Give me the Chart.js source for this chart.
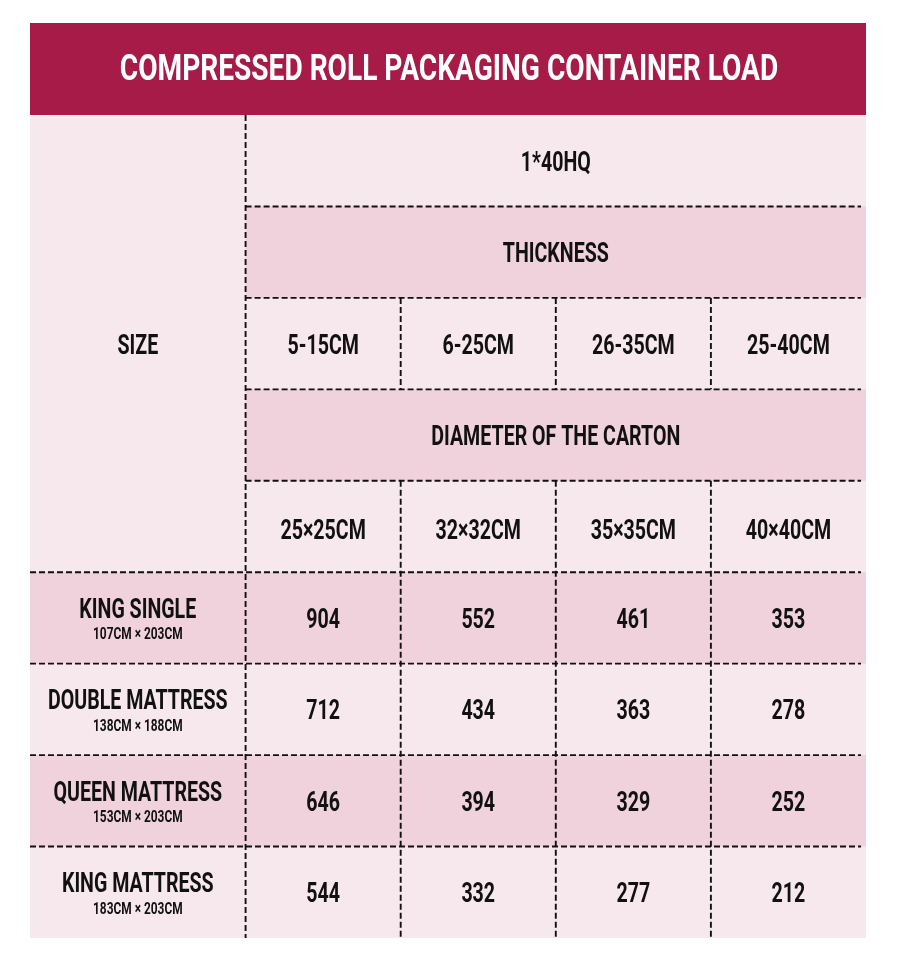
<!DOCTYPE html>
<html>
<head>
<meta charset="utf-8">
<title>Compressed Roll Packaging Container Load</title>
<script src="https://cdn.jsdelivr.net/npm/chart.js@4.4.1/dist/chart.umd.min.js"></script>
<style>
  html, body { margin: 0; padding: 0; background: #ffffff; }
  canvas { display: block; }
</style>
</head>
<body>
<canvas id="loadTable" width="897" height="960"></canvas>
<script>
// Table content
const titleText = 'COMPRESSED ROLL PACKAGING CONTAINER LOAD';
const containerLabel = '1*40HQ';
const sizeHeader = 'SIZE';
const thicknessHeader = 'THICKNESS';
const diameterHeader = 'DIAMETER OF THE CARTON';
const thicknesses = ['5-15CM', '6-25CM', '26-35CM', '25-40CM'];
const diameters = ['25×25CM', '32×32CM', '35×35CM', '40×40CM'];
const sizes = ['KING SINGLE', 'DOUBLE MATTRESS', 'QUEEN MATTRESS', 'KING MATTRESS'];
const dimensions = ['107CM × 203CM', '138CM × 188CM', '153CM × 203CM', '183CM × 203CM'];

// Pieces per container, one array per carton diameter (rows follow `sizes`)
const load25 = [904, 712, 646, 544];
const load32 = [552, 434, 394, 332];
const load35 = [461, 363, 329, 277];
const load40 = [353, 278, 252, 212];
const loads = [load25, load32, load35, load40];

// Grid layout: first column is wider than the four value columns
const sizeColWidth = 1.39;
const totalCols = sizeColWidth + 4;
const headerRows = 5;
const totalRows = headerRows + sizes.length;
const colLeft = i => (i === 0 ? 0 : sizeColWidth + (i - 1));
const colMid = i => (i === 0 ? sizeColWidth / 2 : sizeColWidth + (i - 1) + 0.5);

// no condensed font installed, so Roboto bold gets squeezed sideways
const FONT = "Roboto, 'Liberation Sans', sans-serif";
const SQUEEZE = 0.7;
const lightPink = '#f7e8ed';
const darkPink = '#efd2db';
const ink = '#111111';

// One scatter dataset per diameter column, points sit in the middle of each cell
const datasets = loads.map((values, c) => ({
    label: diameters[c],
    data: values.map((v, r) => ({ x: colMid(c + 1), y: headerRows + r + 0.5, v: v })),
    pointRadius: 0,
    pointHoverRadius: 0,
    showLine: false
}));

function squeezedText(ctx, str, px, py, size, color, squeeze) {
    ctx.save();
    ctx.font = 'bold ' + size + 'px ' + FONT;
    ctx.fillStyle = color;
    ctx.textAlign = 'center';
    ctx.textBaseline = 'middle';
    ctx.translate(px, py);
    ctx.scale(squeeze || SQUEEZE, 1);
    ctx.fillText(str, 0, 0);
    ctx.restore();
}

const tablePlugin = {
    id: 'tablePlugin',
    beforeDraw(chart) {
        const { ctx, chartArea, scales: { x, y } } = chart;
        ctx.save();
        ctx.fillStyle = '#ffffff';
        ctx.fillRect(0, 0, chart.width, chart.height);
        // title band above the table body
        const bandTop = 23;
        ctx.fillStyle = '#a61b47';
        ctx.fillRect(chartArea.left, bandTop, chartArea.right - chartArea.left, chartArea.top - bandTop);
        squeezedText(ctx, titleText, (chartArea.left + chartArea.right) / 2 + 1,
            (bandTop + chartArea.top) / 2 + 2, 36, '#ffffff', 0.78);
        // body
        ctx.fillStyle = lightPink;
        ctx.fillRect(chartArea.left, chartArea.top, chartArea.right - chartArea.left, chartArea.bottom - chartArea.top);
        // darker bands
        ctx.fillStyle = darkPink;
        const band = (x0, r) => {
            const px = x.getPixelForValue(x0);
            ctx.fillRect(px, y.getPixelForValue(r), x.getPixelForValue(totalCols) - px,
                y.getPixelForValue(r + 1) - y.getPixelForValue(r));
        };
        band(sizeColWidth, 1);
        band(sizeColWidth, 3);
        band(0, 5);
        band(0, 7);
        ctx.restore();
    },
    beforeDatasetsDraw(chart) {
        const { ctx, scales: { x, y } } = chart;
        ctx.save();
        ctx.strokeStyle = '#111111';
        ctx.lineWidth = 1.9;
        ctx.setLineDash([6, 3]);
        const hLine = (x0, x1, r) => {
            ctx.beginPath();
            ctx.moveTo(x.getPixelForValue(x0), y.getPixelForValue(r));
            ctx.lineTo(x.getPixelForValue(x1) - 5, y.getPixelForValue(r));
            ctx.stroke();
        };
        const vLine = (c, r0, r1) => {
            ctx.beginPath();
            ctx.moveTo(x.getPixelForValue(c), y.getPixelForValue(r0));
            ctx.lineTo(x.getPixelForValue(c), y.getPixelForValue(r1));
            ctx.stroke();
        };
        for (let r = 1; r < headerRows; r++) hLine(sizeColWidth, totalCols, r);
        for (let r = headerRows; r < totalRows; r++) hLine(0, totalCols, r);
        vLine(sizeColWidth, 0, totalRows);
        for (let c = 2; c <= 4; c++) {
            vLine(colLeft(c), 2, 3);
            vLine(colLeft(c), 4, totalRows);
        }
        ctx.restore();
    },
    afterDatasetsDraw(chart) {
        const { ctx, scales: { x, y } } = chart;
        const text = (str, xv, yv, size, dy) =>
            squeezedText(ctx, str, x.getPixelForValue(xv), y.getPixelForValue(yv) + (dy || 0), size, ink);
        const spanMid = sizeColWidth + 2;
        text(containerLabel, spanMid, 0.5, 28, 3);
        text(thicknessHeader, spanMid, 1.5, 28, 3);
        text(diameterHeader, spanMid, 3.5, 28, 3);
        text(sizeHeader, colMid(0), headerRows / 2, 28, 3);
        thicknesses.forEach((t, i) => text(t, colMid(i + 1), 2.5, 28, 3));
        diameters.forEach((d, i) => text(d, colMid(i + 1), 4.5, 28, 5));
        sizes.forEach((s, i) => {
            text(s, colMid(0), headerRows + i + 0.5, 28, -7);
            text(dimensions[i], colMid(0), headerRows + i + 0.5, 17, 17);
        });
        // values taken from the dataset points
        chart.data.datasets.forEach((ds, di) => {
            chart.getDatasetMeta(di).data.forEach((pt, i) => {
                squeezedText(ctx, String(ds.data[i].v), pt.x, pt.y + 3, 28, ink);
            });
        });
    }
};

new Chart(document.getElementById('loadTable'), {
    type: 'scatter',
    data: { datasets: datasets },
    options: {
        responsive: false,
        animation: false,
        devicePixelRatio: 1,
        layout: { padding: { top: 115, left: 30, right: 31, bottom: 22 } },
        scales: {
            x: { type: 'linear', min: 0, max: totalCols, display: false },
            y: { type: 'linear', min: 0, max: totalRows, reverse: true, display: false }
        },
        plugins: {
            legend: { display: false },
            tooltip: { enabled: false },
            title: { display: false }
        }
    },
    plugins: [tablePlugin]
});
</script>
</body>
</html>
